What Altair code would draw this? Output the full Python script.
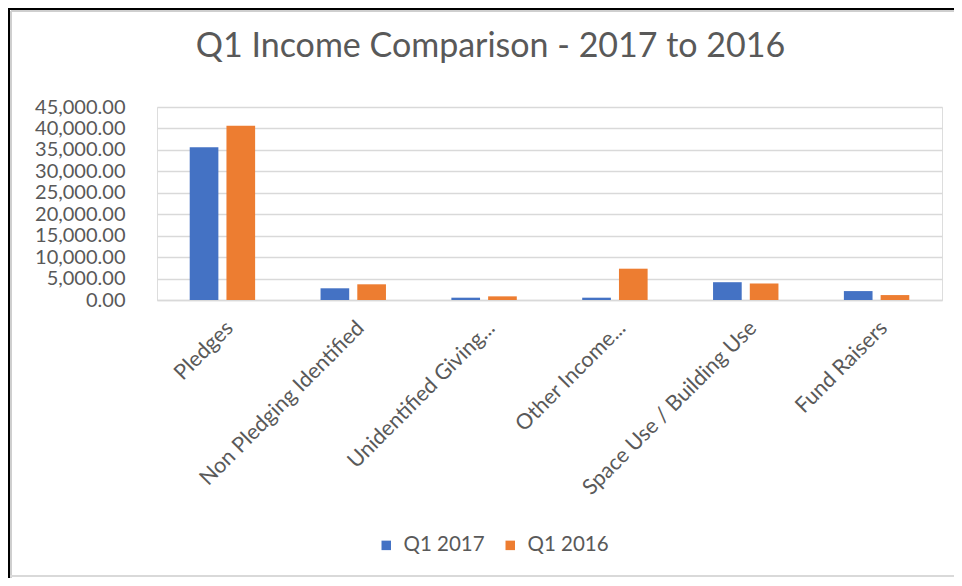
import altair as alt
import pandas as pd

categories = [
    "Pledges",
    "Non Pledging Identified",
    "Unidentified Giving...",
    "Other Income...",
    "Space Use / Building Use",
    "Fund Raisers",
]
q1_2017 = [35600, 2730, 540, 540, 4150, 2080]
q1_2016 = [40650, 3660, 850, 7300, 3850, 1150]
series = ["Q1 2017", "Q1 2016"]
colors = ["#4472C4", "#ED7D31"]
y_ticks = [0, 5000, 10000, 15000, 20000, 25000, 30000, 35000, 40000, 45000]

rows = []
for c, a, b in zip(categories, q1_2017, q1_2016):
    rows.append({"Category": c, "Series": series[0], "Value": a})
    rows.append({"Category": c, "Series": series[1], "Value": b})
df = pd.DataFrame(rows)

FONT = "Lato"
GREY = "#595959"
GRID = "#D9D9D9"

bars = alt.Chart(df).mark_bar().encode(
    x=alt.X(
        "Category:N",
        sort=categories,
        scale=alt.Scale(paddingInner=0.5, paddingOuter=0.25),
        axis=alt.Axis(
            title=None,
            labelAngle=-45,
            labelFontSize=21.5,
            labelColor=GREY,
            labelFont=FONT,
            ticks=False,
            domainColor=GRID,
            domainWidth=1.5,
            labelPadding=17,
            labelLimit=400,
        ),
    ),
    xOffset=alt.XOffset("Series:N", sort=series, scale=alt.Scale(paddingInner=0.22)),
    y=alt.Y(
        "Value:Q",
        scale=alt.Scale(domain=[0, 45000], nice=False),
        axis=alt.Axis(
            title=None,
            values=y_ticks,
            format=",.2f",
            domain=False,
            ticks=False,
            labelPadding=32,
            labelFontSize=20,
            labelColor=GREY,
            labelFont=FONT,
            gridColor=GRID,
            gridWidth=1.5,
        ),
    ),
    color=alt.Color(
        "Series:N",
        sort=series,
        scale=alt.Scale(domain=series, range=colors),
        legend=alt.Legend(
            title=None,
            orient="none",
            legendX=219,
            legendY=428,
            direction="horizontal",
            symbolType="square",
            symbolSize=90,
            symbolStrokeWidth=0,
            labelFontSize=20.5,
            labelColor=GREY,
            labelFont=FONT,
            columnPadding=15,
            labelOffset=7,
        ),
    ),
)

frame_df = pd.DataFrame({"k": [0]})
top_line = alt.Chart(frame_df).mark_rule(color="black", strokeWidth=2).encode(
    x=alt.value(-149), x2=alt.value(797), y=alt.value(-98)
)
top_inner = alt.Chart(frame_df).mark_rule(color="#cfcfcf", strokeWidth=2).encode(
    x=alt.value(-146), x2=alt.value(797), y=alt.value(-96)
)
left_line = alt.Chart(frame_df).mark_rule(color="black", strokeWidth=2).encode(
    x=alt.value(-148), y=alt.value(-99), y2=alt.value(471)
)
left_inner = alt.Chart(frame_df).mark_rule(color="#cfcfcf", strokeWidth=2).encode(
    x=alt.value(-146), y=alt.value(-96), y2=alt.value(471)
)
bottom_line = alt.Chart(frame_df).mark_rule(color="#d9d9d9", strokeWidth=2).encode(
    x=alt.value(-147), x2=alt.value(797), y=alt.value(469)
)

chart = (
    alt.layer(bars, top_line, top_inner, left_line, left_inner, bottom_line)
    .properties(
        width=785,
        height=193,
        padding={"left": 149, "top": 99, "right": 12, "bottom": 278},
        autosize=alt.AutoSizeParams(type="none"),
        title=alt.TitleParams(
            "Q1 Income Comparison - 2017 to 2016",
            fontSize=34,
            font=FONT,
            color=GREY,
            fontWeight="normal",
            anchor="middle",
            dx=-59,
            offset=-57,
        ),
    )
    .configure_view(stroke=None)
    .configure(background="white")
)

chart.save("out.html", embed_options={"renderer": "svg", "actions": False})
